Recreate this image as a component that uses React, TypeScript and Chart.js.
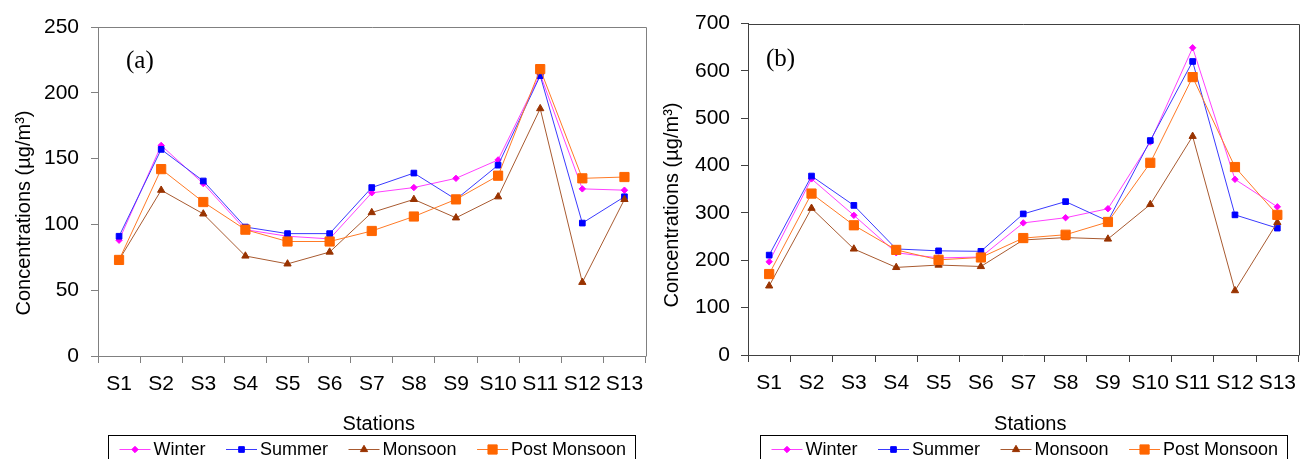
import React, { useEffect, useRef } from 'react';
import { Chart, registerables } from 'chart.js';

Chart.register(...registerables);

// ---------------- data ----------------
const stations = ['S1', 'S2', 'S3', 'S4', 'S5', 'S6', 'S7', 'S8', 'S9', 'S10', 'S11', 'S12', 'S13'];
const seriesNames = ['Winter', 'Summer', 'Monsoon', 'Post Monsoon'];

// panel (a)
const winterA = [88, 160, 131, 96, 91, 89, 124, 128, 135, 149, 214, 127, 126];
const summerA = [91, 157, 133, 98, 93, 93, 128, 139, 119, 145, 213, 101, 121];
const monsoonA = [73, 126, 108, 76, 70, 79, 109, 119, 105, 121, 188, 56, 119];
const postMonsoonA = [73, 142, 117, 96, 87, 87, 95, 106, 119, 137, 218, 135, 136];
const yTicksA = [0, 50, 100, 150, 200, 250];

// panel (b)
const winterB = [197, 372, 295, 216, 205, 207, 279, 290, 309, 450, 649, 371, 313];
const summerB = [211, 378, 316, 224, 220, 219, 298, 324, 283, 453, 620, 296, 268];
const monsoonB = [146, 310, 224, 185, 190, 187, 243, 248, 245, 318, 462, 136, 280];
const postMonsoonB = [171, 341, 274, 222, 201, 206, 247, 254, 281, 406, 587, 397, 296];
const yTicksB = [0, 100, 200, 300, 400, 500, 600, 700];

const xTitle = 'Stations';
const yTitle = 'Concentrations (\u00B5g/m\u00B3)';

// ---------------- styles ----------------
const FONT = '"Liberation Sans", Arial, Helvetica, sans-serif';
const SERIF = '"Liberation Serif", "Times New Roman", serif';

type SeriesStyle = { color: string; lineColor: string; pointStyle: string; radius: number; order: number };
const seriesStyles: SeriesStyle[] = [
  { color: '#FF00FF', lineColor: '#FF40FF', pointStyle: 'rectRot', radius: 3.2, order: 3 },
  { color: '#0000FF', lineColor: '#3A3AFF', pointStyle: 'rect', radius: 4, order: 2 },
  { color: '#993300', lineColor: '#A85A30', pointStyle: 'triangle', radius: 4.2, order: 1 },
  { color: '#FF6600', lineColor: '#FF7A26', pointStyle: 'rect', radius: 6.5, order: 0 },
];

type Panel = {
  label: string;
  series: number[][];
  yTicks: number[];
  axisColor: string;
  padTop: number;
  padRight: number;
  padBottom: number;
  yWidth: number;
  yLabelPad: number;
  labelDX: number;
  labelDY: number;
  yTitleX: number;
  yTitleY: number;
};

const panelA: Panel = {
  label: '(a)',
  series: [winterA, summerA, monsoonA, postMonsoonA],
  yTicks: yTicksA,
  axisColor: '#808080',
  padTop: 27,
  padRight: 1,
  padBottom: 23,
  yWidth: 98,
  yLabelPad: 12,
  labelDX: 28,
  labelDY: 34,
  yTitleX: 24,
  yTitleY: 213,
};

const panelB: Panel = {
  label: '(b)',
  series: [winterB, summerB, monsoonB, postMonsoonB],
  yTicks: yTicksB,
  axisColor: '#404040',
  padTop: 22,
  padRight: 2,
  padBottom: 24,
  yWidth: 95,
  yLabelPad: 11,
  labelDX: 18,
  labelDY: 36,
  yTitleX: 19.5,
  yTitleY: 205,
};

function drawMarker(ctx: CanvasRenderingContext2D, st: SeriesStyle, x: number, y: number) {
  const r = st.radius;
  ctx.beginPath();
  if (st.pointStyle === 'rect') {
    const s = r * Math.SQRT1_2;
    ctx.rect(x - s, y - s, 2 * s, 2 * s);
  } else if (st.pointStyle === 'rectRot') {
    ctx.moveTo(x, y - r);
    ctx.lineTo(x + r, y);
    ctx.lineTo(x, y + r);
    ctx.lineTo(x - r, y);
    ctx.closePath();
  } else {
    ctx.moveTo(x, y - r);
    ctx.lineTo(x + r * Math.sin((2 * Math.PI) / 3), y - r * Math.cos((2 * Math.PI) / 3));
    ctx.lineTo(x + r * Math.sin((4 * Math.PI) / 3), y - r * Math.cos((4 * Math.PI) / 3));
    ctx.closePath();
  }
  ctx.fillStyle = st.color;
  ctx.strokeStyle = st.color;
  ctx.lineWidth = 1;
  ctx.fill();
  ctx.stroke();
}

const decorPlugin = {
  id: 'decor',
  beforeDatasetsDraw(chart: any, _args: any, opts: any) {
    const { ctx, chartArea } = chart;
    const { left, right, top, bottom } = chartArea;
    ctx.save();
    ctx.strokeStyle = opts.axisColor;
    ctx.lineWidth = 1;
    const t = Math.round(top) + 0.5;
    const r = Math.round(right) + 0.5;
    ctx.beginPath();
    ctx.moveTo(Math.round(left), t);
    ctx.lineTo(r, t);
    ctx.lineTo(r, Math.round(bottom) + 0.5);
    ctx.stroke();
    ctx.restore();
  },
  afterDraw(chart: any, _args: any, opts: any) {
    const { ctx, chartArea } = chart;
    const { left, right, top } = chartArea;
    const cx = (left + right) / 2;
    ctx.save();
    ctx.fillStyle = '#000';

    // panel label
    ctx.font = `25px ${SERIF}`;
    ctx.textAlign = 'left';
    ctx.textBaseline = 'middle';
    ctx.fillText(opts.label, left + opts.labelDX, top + opts.labelDY);

    // x title
    ctx.font = `20px ${FONT}`;
    ctx.textAlign = 'center';
    ctx.fillText(xTitle, cx + 7, 424);

    // y title
    ctx.save();
    ctx.translate(opts.yTitleX, opts.yTitleY);
    ctx.rotate(-Math.PI / 2);
    ctx.font = `20px ${FONT}`;
    ctx.textAlign = 'center';
    ctx.textBaseline = 'middle';
    ctx.fillText(yTitle, 0, 0);
    ctx.restore();

    // legend
    ctx.font = `18px ${FONT}`;
    const lineLen = 31;
    const textGap = 3;
    const itemGap = 20.5;
    const padL = 11;
    const padR = 9;
    const widths = seriesNames.map((n) => ctx.measureText(n).width);
    const total =
      padL + widths.reduce((a, w) => a + lineLen + textGap + w, 0) + itemGap * (seriesNames.length - 1) + padR;
    const boxLeft = Math.round(cx - total / 2) + 0.5;
    const boxTop = 435.5;
    ctx.strokeStyle = '#000';
    ctx.lineWidth = 1;
    ctx.strokeRect(boxLeft, boxTop, Math.round(total), 40);
    const rowY = 449;
    let x = boxLeft + padL;
    seriesNames.forEach((name, i) => {
      const st = seriesStyles[i];
      ctx.beginPath();
      ctx.strokeStyle = st.lineColor;
      ctx.lineWidth = 1;
      ctx.moveTo(x, rowY + 0.5);
      ctx.lineTo(x + lineLen, rowY + 0.5);
      ctx.stroke();
      drawMarker(ctx, st, x + lineLen / 2, rowY + 0.5);
      ctx.fillStyle = '#000';
      ctx.textAlign = 'left';
      ctx.textBaseline = 'middle';
      ctx.fillText(name, x + lineLen + textGap, rowY + 1);
      x += lineLen + textGap + widths[i] + itemGap;
    });
    ctx.restore();
  },
};

function makeConfig(p: Panel): any {
  const ticks = p.yTicks;
  return {
    type: 'line',
    data: {
      labels: stations,
      datasets: p.series.map((vals, i) => {
        const st = seriesStyles[i];
        return {
          label: seriesNames[i],
          data: vals,
          borderColor: st.lineColor,
          backgroundColor: st.color,
          borderWidth: 1,
          tension: 0,
          pointStyle: st.pointStyle,
          pointRadius: st.radius,
          pointBorderWidth: 1,
          pointBackgroundColor: st.color,
          pointBorderColor: st.color,
          order: st.order,
          fill: false,
        };
      }),
    },
    options: {
      responsive: false,
      animation: false,
      devicePixelRatio: 1,
      events: [],
      layout: { padding: { left: 0, top: p.padTop, right: p.padRight, bottom: p.padBottom } },
      plugins: {
        legend: { display: false },
        tooltip: { enabled: false },
        decor: {
          axisColor: p.axisColor,
          label: p.label,
          labelDX: p.labelDX,
          labelDY: p.labelDY,
          yTitleX: p.yTitleX,
          yTitleY: p.yTitleY,
        },
      },
      scales: {
        x: {
          type: 'category',
          offset: true,
          grid: {
            offset: true,
            drawOnChartArea: false,
            drawTicks: true,
            tickLength: 7,
            color: p.axisColor,
            lineWidth: 1,
          },
          border: { display: true, color: p.axisColor, width: 1 },
          ticks: {
            color: '#000',
            font: { family: FONT, size: 21 },
            padding: 9,
            maxRotation: 0,
            minRotation: 0,
            autoSkip: false,
          },
          afterFit: (s: any) => {
            s.height = 80;
          },
        },
        y: {
          type: 'linear',
          min: ticks[0],
          max: ticks[ticks.length - 1],
          ticks: {
            stepSize: ticks[1] - ticks[0],
            color: '#000',
            font: { family: FONT, size: 21 },
            padding: p.yLabelPad,
          },
          grid: {
            drawOnChartArea: false,
            drawTicks: true,
            tickLength: 7,
            color: p.axisColor,
            lineWidth: 1,
          },
          border: { display: true, color: p.axisColor, width: 1 },
          afterFit: (s: any) => {
            s.width = p.yWidth;
          },
        },
      },
    },
    plugins: [decorPlugin],
  };
}

function PanelChart({ panel, left }: { panel: Panel; left: number }) {
  const ref = useRef<HTMLCanvasElement | null>(null);
  useEffect(() => {
    if (!ref.current) return;
    const chart = new Chart(ref.current, makeConfig(panel));
    return () => chart.destroy();
  }, [panel]);
  return (
    <canvas
      ref={ref}
      width={653}
      height={459}
      style={{ position: 'absolute', left, top: 0, width: 653, height: 459, display: 'block' }}
    />
  );
}

export default function App() {
  return (
    <div
      style={{
        position: 'fixed',
        left: 0,
        top: 0,
        width: 1306,
        height: 459,
        overflow: 'hidden',
        background: '#ffffff',
      }}
    >
      <PanelChart panel={panelA} left={0} />
      <PanelChart panel={panelB} left={653} />
    </div>
  );
}
